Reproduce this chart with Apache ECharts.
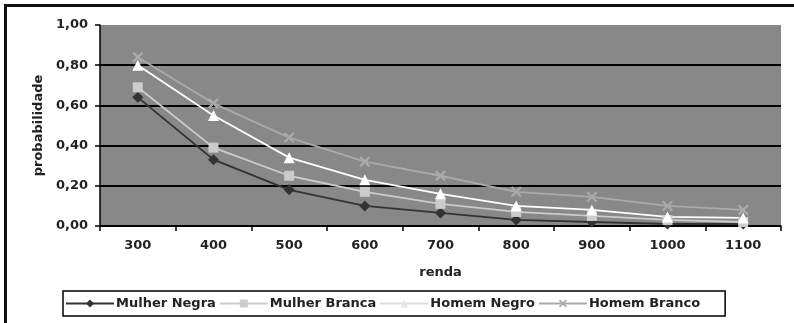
<!DOCTYPE html>
<html><head><meta charset="utf-8">
<script src="https://cdn.jsdelivr.net/npm/echarts@6/dist/echarts.min.js"></script>
<style>html,body{margin:0;padding:0;background:#fff}#c{width:794px;height:323px}
#frame{position:absolute;left:4px;top:4px;width:800px;height:330px;border-left:3px solid #111;border-top:3px solid #111;pointer-events:none}</style>
</head><body><div id="c"></div><div id="frame"></div>
<script>
const categories = ['300','400','500','600','700','800','900','1000','1100'];
const mulherNegra  = [0.64, 0.33, 0.18, 0.10, 0.065, 0.03, 0.02, 0.01, 0.01];
const mulherBranca = [0.69, 0.39, 0.25, 0.17, 0.11, 0.07, 0.05, 0.03, 0.02];
const homemNegro   = [0.80, 0.55, 0.34, 0.23, 0.16, 0.10, 0.08, 0.045, 0.04];
const homemBranco  = [0.84, 0.61, 0.44, 0.32, 0.25, 0.17, 0.145, 0.10, 0.08];
const seriesNames = ['Mulher Negra','Mulher Branca','Homem Negro','Homem Branco'];

const X = 'path://M0,1.5 L1.5,0 L5,3.5 L8.5,0 L10,1.5 L6.5,5 L10,8.5 L8.5,10 L5,6.5 L1.5,10 L0,8.5 L3.5,5 Z';
const font = 'DejaVu Sans';
const chart = echarts.init(document.getElementById('c'), null, {renderer:'canvas'});
function s(name, data, color, symbol, size){
  return {name, type:'line', data, symbol, symbolSize:size,
    lineStyle:{color, width:1.8}, itemStyle:{color, borderWidth:0}, animation:false};
}
chart.setOption({
  animation:false,
  textStyle:{fontFamily:font},
  grid:{left:100, right:13, top:25, bottom:97, show:true, backgroundColor:'#888888', borderWidth:0},
  xAxis:{type:'category', data:categories, boundaryGap:true,
    name:'renda', nameLocation:'middle', nameGap:40,
    nameTextStyle:{fontFamily:font, fontWeight:'bold', fontSize:13, color:'#222'},
    axisLine:{lineStyle:{color:'#000', width:1.5}},
    axisTick:{show:true, length:5, lineStyle:{color:'#000', width:1.5}},
    axisLabel:{fontFamily:font, fontWeight:'bold', fontSize:13, color:'#222', margin:13}},
  yAxis:{type:'value', min:0, max:1, interval:0.2,
    name:'probabilidade', nameLocation:'middle', nameGap:55, nameRotate:90,
    nameTextStyle:{fontFamily:font, fontWeight:'bold', fontSize:13, color:'#222'},
    axisLine:{show:true, lineStyle:{color:'#000', width:1.5}},
    axisTick:{show:true, length:5, lineStyle:{color:'#000', width:1.5}},
    splitLine:{lineStyle:{color:['#000','#000','#000','#000','#000','rgba(0,0,0,0)'], width:2}},
    axisLabel:{fontFamily:font, fontWeight:'bold', fontSize:13, color:'#222', margin:12,
      formatter:v=>v.toFixed(2).replace('.',',')}},
  legend:{left:63, top:291, orient:'horizontal',
    borderColor:'#000', borderWidth:1.5, padding:[6,25,6,2], itemGap:3,
    itemWidth:48, itemHeight:10,
    textStyle:{fontFamily:font, fontWeight:'bold', fontSize:13, color:'#222', padding:[0,0,0,-3]},
    data:[seriesNames[0], seriesNames[1],
      {name:seriesNames[2], itemStyle:{color:'#e6e6e6'}, lineStyle:{color:'#dddddd'}},
      seriesNames[3]]},
  series:[
    s(seriesNames[0], mulherNegra, '#333333', 'diamond', 11),
    s(seriesNames[1], mulherBranca, '#cccccc', 'rect', 10),
    s(seriesNames[2], homemNegro, '#ffffff', 'triangle', 11),
    s(seriesNames[3], homemBranco, '#aaaaaa', X, 11)
  ]
});
</script></body></html>
